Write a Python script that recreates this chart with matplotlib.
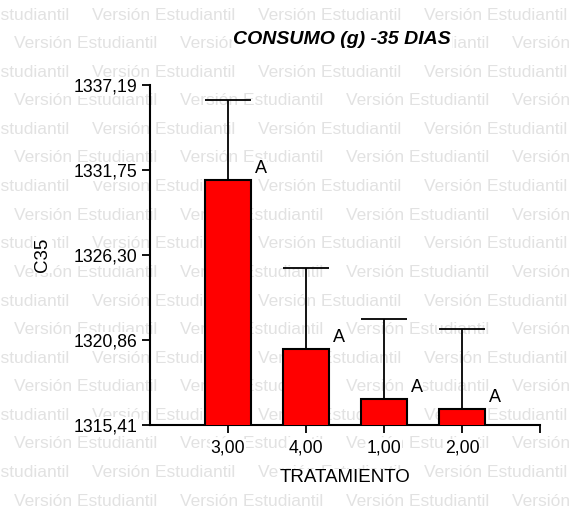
import matplotlib.pyplot as plt
import numpy as np

plt.rcParams['font.family'] = ['Liberation Sans', 'DejaVu Sans']

# data
tratamientos = ['3,00', '4,00', '1,00', '2,00']
medias = [1331.10, 1320.26, 1317.03, 1316.39]
errores = [5.13, 5.19, 5.17, 5.17]
letras = ['A', 'A', 'A', 'A']
yticks = [1315.41, 1320.86, 1326.30, 1331.75, 1337.19]
ytick_labels = ['1315,41', '1320,86', '1326,30', '1331,75', '1337,19']

fig = plt.figure(figsize=(5.73, 5.09), dpi=100)
ax = fig.add_axes([150/573, 1-424.5/509, 390/573, 339.5/509])
ax.set_facecolor('none')

# watermark rows
marca = 'Versión Estudiantil'
for k in range(18):
    y = 1 - (15 + k*28.6)/509
    x0 = -74 if k % 2 == 0 else 14
    for j in range(5):
        fig.text((x0 + j*166)/573, y, marca, fontsize=12.5, color='#e2e2e2',
                 ha='left', va='center', zorder=-5)

x = np.arange(len(tratamientos))
w = 0.58
ax.bar(x, medias, width=w, color='#ff0000', edgecolor='black', linewidth=1.5, zorder=3)
tops = np.array(medias) + np.array(errores)
ax.vlines(x, medias, tops, color='black', linewidth=1.3, zorder=2)
ax.hlines(tops, x - w/2, x + w/2, color='black', linewidth=1.3, zorder=2)

for xi, m, l in zip(x, medias, letras):
    ax.text(xi + 0.42, m + 0.75, l, fontsize=13, ha='center', va='center',
            bbox=dict(facecolor='white', edgecolor='none', pad=0.3), zorder=4)

ax.set_xlim(-1, 4)
ax.set_ylim(yticks[0], yticks[-1])
ax.set_yticks(yticks, ytick_labels, fontsize=12.7)
ax.set_xticks(list(x) + [4], tratamientos + [''], fontsize=12.7)

for s in ['top', 'right']:
    ax.spines[s].set_visible(False)
for s in ['left', 'bottom']:
    ax.spines[s].set_linewidth(1.5)
ax.tick_params(axis='y', length=6, width=1.3, pad=3)
ax.tick_params(axis='x', length=6, width=1.3, pad=5)

for t in ax.get_yticklabels() + ax.get_xticklabels():
    t.set_bbox(dict(facecolor='white', edgecolor='none', pad=0.5))

ax.set_xlabel('TRATAMIENTO', fontsize=13.5, labelpad=9,
              bbox=dict(facecolor='white', edgecolor='none', pad=0.5))
ax.set_ylabel('C35', fontsize=13.5, labelpad=16,
              bbox=dict(facecolor='white', edgecolor='none', pad=0.5))

fig.text(342/573, 1 - 40/509, 'CONSUMO (g) -35 DIAS', fontsize=14, fontweight='bold',
         fontstyle='italic', ha='center', va='center',
         bbox=dict(facecolor='white', edgecolor='none', pad=1))

fig.savefig('out.png', dpi=100)
